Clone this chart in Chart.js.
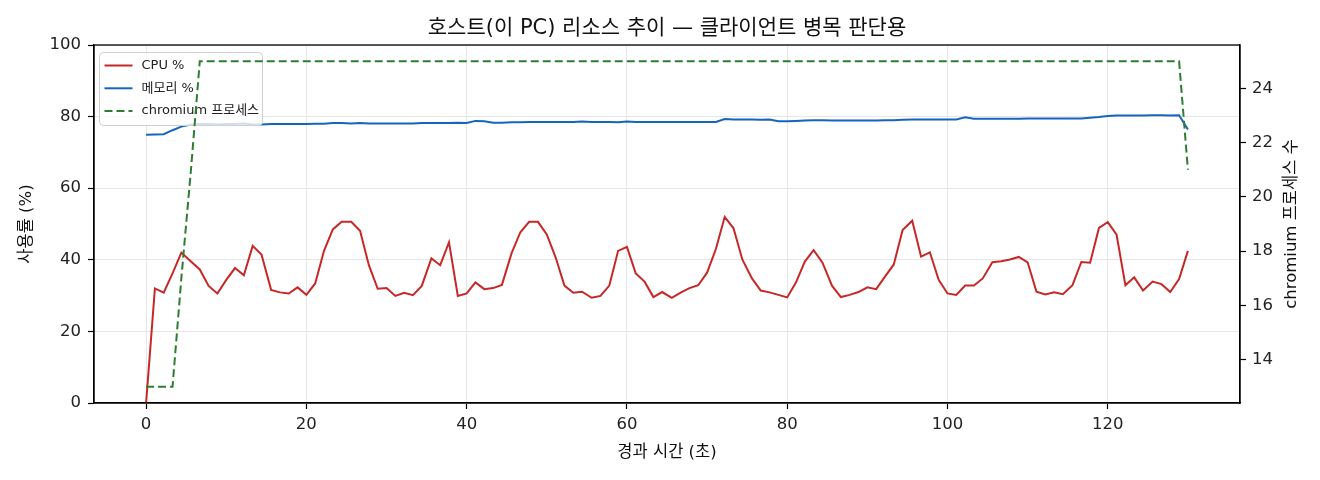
<!DOCTYPE html>
<html lang="ko">
<head>
<meta charset="utf-8">
<title>호스트 리소스 추이</title>
<script src="https://cdn.jsdelivr.net/npm/chart.js@4.4.1/dist/chart.umd.min.js"></script>
<style>
  html, body { margin: 0; padding: 0; background: #fff; }
  canvas { display: block; }
</style>
</head>
<body>
<canvas id="chart" width="1320" height="480"></canvas>
<script>
const FONT = '"DejaVu Sans", "Noto Sans CJK KR", sans-serif';

// 경과 시간 (초)
const elapsedSec = [
  0, 1.1, 2.2, 3.3, 4.4, 5.6, 6.7, 7.8, 8.9,
  10, 11.1, 12.2, 13.3, 14.4, 15.6, 16.7, 17.8, 18.9,
  20, 21.1, 22.2, 23.3, 24.4, 25.6, 26.7, 27.8, 28.9,
  30, 31.1, 32.2, 33.3, 34.4, 35.6, 36.7, 37.8, 38.9,
  40, 41.1, 42.2, 43.3, 44.4, 45.6, 46.7, 47.8, 48.9,
  50, 51.1, 52.2, 53.3, 54.4, 55.6, 56.7, 57.8, 58.9,
  60, 61.1, 62.2, 63.3, 64.4, 65.6, 66.7, 67.8, 68.9,
  70, 71.1, 72.2, 73.3, 74.4, 75.6, 76.7, 77.8, 78.9,
  80, 81.1, 82.2, 83.3, 84.4, 85.6, 86.7, 87.8, 88.9,
  90, 91.1, 92.2, 93.3, 94.4, 95.6, 96.7, 97.8, 98.9,
  100, 101.1, 102.2, 103.3, 104.4, 105.6, 106.7, 107.8, 108.9,
  110, 111.1, 112.2, 113.3, 114.4, 115.6, 116.7, 117.8, 118.9,
  120, 121.1, 122.2, 123.3, 124.4, 125.6, 126.7, 127.8, 128.9,
  130
];

const cpuPct = [
  0, 32.0, 30.8, 36.2, 42.0, 39.5, 37.3, 32.7, 30.6,
  34.4, 37.7, 35.7, 43.9, 41.5, 31.6, 30.9, 30.6, 32.3,
  30.2, 33.4, 42.5, 48.5, 50.6, 50.6, 48.1, 38.5, 31.9,
  32.1, 29.9, 30.8, 30.1, 32.7, 40.4, 38.5, 44.9, 29.9,
  30.6, 33.7, 31.8, 32.1, 33.0, 41.8, 47.7, 50.6, 50.6,
  47.1, 40.7, 32.8, 30.8, 31.1, 29.4, 29.9, 32.8, 42.5,
  43.6, 36.2, 33.9, 29.6, 31.0, 29.4, 30.8, 32.1, 32.9,
  36.4, 43.0, 52.0, 48.8, 40.1, 34.8, 31.4, 30.9, 30.2,
  29.5, 33.7, 39.5, 42.7, 39.2, 32.7, 29.6, 30.2, 31.0,
  32.3, 31.8, 35.3, 38.7, 48.3, 50.9, 40.9, 42.1, 34.4,
  30.6, 30.2, 32.8, 32.8, 34.8, 39.3, 39.6, 40.1, 40.8,
  39.3, 31.1, 30.3, 30.9, 30.4, 32.9, 39.4, 39.2, 48.9,
  50.5, 47.0, 32.9, 35.1, 31.4, 33.9, 33.2, 31.0, 34.6,
  42.5
];

const memPct = [
  74.9, 75.0, 75.1, 76.2, 77.2, 77.8, 77.9, 77.9, 77.8,
  77.9, 77.9, 78.1, 77.8, 77.8, 77.9, 77.9, 77.9, 77.9,
  77.9, 78.0, 78.0, 78.2, 78.2, 78.1, 78.2, 78.1, 78.1,
  78.1, 78.1, 78.1, 78.1, 78.2, 78.2, 78.2, 78.2, 78.3,
  78.2, 78.8, 78.7, 78.3, 78.3, 78.4, 78.4, 78.5, 78.5,
  78.5, 78.5, 78.5, 78.5, 78.6, 78.5, 78.5, 78.5, 78.4,
  78.6, 78.5, 78.5, 78.5, 78.5, 78.5, 78.5, 78.5, 78.5,
  78.5, 78.5, 79.3, 79.2, 79.2, 79.2, 79.1, 79.2, 78.7,
  78.7, 78.8, 78.9, 79.0, 79.0, 78.9, 78.9, 78.9, 78.9,
  78.9, 78.9, 79.0, 79.0, 79.1, 79.2, 79.2, 79.2, 79.2,
  79.2, 79.2, 79.8, 79.4, 79.4, 79.4, 79.4, 79.4, 79.4,
  79.5, 79.5, 79.5, 79.5, 79.5, 79.5, 79.5, 79.7, 79.9,
  80.2, 80.3, 80.3, 80.3, 80.3, 80.4, 80.4, 80.3, 80.4,
  76.4
];

const chromiumProcs = [
  13, 13, 13, 13, 17, 21, 25, 25, 25,
  25, 25, 25, 25, 25, 25, 25, 25, 25,
  25, 25, 25, 25, 25, 25, 25, 25, 25,
  25, 25, 25, 25, 25, 25, 25, 25, 25,
  25, 25, 25, 25, 25, 25, 25, 25, 25,
  25, 25, 25, 25, 25, 25, 25, 25, 25,
  25, 25, 25, 25, 25, 25, 25, 25, 25,
  25, 25, 25, 25, 25, 25, 25, 25, 25,
  25, 25, 25, 25, 25, 25, 25, 25, 25,
  25, 25, 25, 25, 25, 25, 25, 25, 25,
  25, 25, 25, 25, 25, 25, 25, 25, 25,
  25, 25, 25, 25, 25, 25, 25, 25, 25,
  25, 25, 25, 25, 25, 25, 25, 25, 25,
  21
];

const seriesLabels = ['CPU %', '메모리 %', 'chromium 프로세스'];
const titleText = '호스트(이 PC) 리소스 추이 — 클라이언트 병목 판단용';
const xTitle = '경과 시간 (초)';
const yTitle = '사용률 (%)';
const y1Title = 'chromium 프로세스 수';

const toPoints = (ys) => elapsedSec.map((t, i) => ({ x: t, y: ys[i] }));

const tickFont = { family: FONT, size: 16.5 };
const gridStyle = { color: '#e6e6e6', lineWidth: 1, tickColor: '#000', tickLength: 6, tickWidth: 1.2 };
const borderStyle = { color: '#000', width: 1.3 };

// 범례, 제목, 오른쪽 축 제목, 테두리
const decorPlugin = {
  id: 'decor',
  afterDatasetDraw(chart, args) {
    // 범례는 왼쪽 축 선들 위, 프로세스 선 아래
    if (args.index !== 1) return;
    const ctx = chart.ctx;
    const x0 = chart.chartArea.left + 5.5, y0 = chart.chartArea.top + 7.5;
    const w = 163, h = 73;
    ctx.save();
    ctx.beginPath();
    ctx.roundRect(x0, y0, w, h, 4);
    ctx.fillStyle = 'rgba(255,255,255,0.8)';
    ctx.fill();
    ctx.strokeStyle = '#d0d0d0';
    ctx.lineWidth = 1;
    ctx.stroke();
    ctx.font = '13px ' + FONT;
    ctx.textBaseline = 'middle';
    ctx.fillStyle = '#222';
    chart.data.datasets.forEach((ds, i) => {
      const y = y0 + 13 + i * 22.8;
      ctx.beginPath();
      ctx.setLineDash(ds.borderDash || []);
      ctx.strokeStyle = ds.borderColor;
      ctx.lineWidth = ds.borderWidth;
      ctx.moveTo(x0 + 5, y);
      ctx.lineTo(x0 + 33, y);
      ctx.stroke();
      ctx.setLineDash([]);
      ctx.fillText(ds.label, x0 + 42, y);
    });
    ctx.restore();
  },
  afterDraw(chart) {
    const { ctx, chartArea } = chart;
    ctx.save();
    ctx.strokeStyle = '#000';
    ctx.lineWidth = 1.3;
    ctx.strokeRect(chartArea.left, chartArea.top, chartArea.right - chartArea.left, chartArea.bottom - chartArea.top);

    ctx.fillStyle = '#111';
    ctx.textAlign = 'center';
    ctx.textBaseline = 'middle';
    ctx.font = '21px ' + FONT;
    ctx.fillText(titleText, (chartArea.left + chartArea.right) / 2, 29);

    ctx.font = '16.5px ' + FONT;
    ctx.translate(1292, (chartArea.top + chartArea.bottom) / 2);
    ctx.rotate(-Math.PI / 2);
    ctx.fillText(y1Title, 0, 0);
    ctx.restore();
  }
};

const chart = new Chart(document.getElementById('chart'), {
  type: 'line',
  data: {
    datasets: [
      {
        label: seriesLabels[0],
        data: toPoints(cpuPct),
        borderColor: '#c62828',
        borderWidth: 2,
        pointRadius: 0,
        yAxisID: 'y',
        order: 2
      },
      {
        label: seriesLabels[1],
        data: toPoints(memPct),
        borderColor: '#1565c0',
        borderWidth: 2,
        pointRadius: 0,
        yAxisID: 'y',
        order: 1
      },
      {
        label: seriesLabels[2],
        data: toPoints(chromiumProcs),
        borderColor: '#2e7d32',
        borderWidth: 2,
        borderDash: [8, 4],
        pointRadius: 0,
        yAxisID: 'y1',
        order: 0
      }
    ]
  },
  options: {
    responsive: false,
    animation: false,
    events: [],
    layout: { padding: { top: 45, left: 0, right: 0, bottom: 0 } },
    plugins: {
      legend: { display: false },
      tooltip: { enabled: false },
      title: { display: false }
    },
    scales: {
      x: {
        type: 'linear',
        min: -6.5,
        max: 136.5,
        ticks: { stepSize: 20, includeBounds: false, font: tickFont, color: '#222', padding: 6, maxRotation: 0 },
        grid: gridStyle,
        border: borderStyle,
        title: { display: true, text: xTitle, font: tickFont, color: '#111', padding: { top: 0, bottom: 17 } },
        afterFit: (s) => { s.height = 77; }
      },
      y: {
        position: 'left',
        min: 0,
        max: 100,
        ticks: { stepSize: 20, font: tickFont, color: '#222', padding: 7 },
        grid: gridStyle,
        border: borderStyle,
        title: { display: true, text: yTitle, font: tickFont, color: '#111', padding: { top: 17, bottom: 0 } },
        afterFit: (s) => { s.width = 94; }
      },
      y1: {
        position: 'right',
        min: 12.4,
        max: 25.6,
        ticks: { stepSize: 2, includeBounds: false, font: tickFont, color: '#222', padding: 6 },
        grid: { ...gridStyle, drawOnChartArea: false },
        border: borderStyle,
        afterFit: (s) => { s.width = 80; }
      }
    }
  },
  plugins: [decorPlugin]
});
</script>
</body>
</html>
